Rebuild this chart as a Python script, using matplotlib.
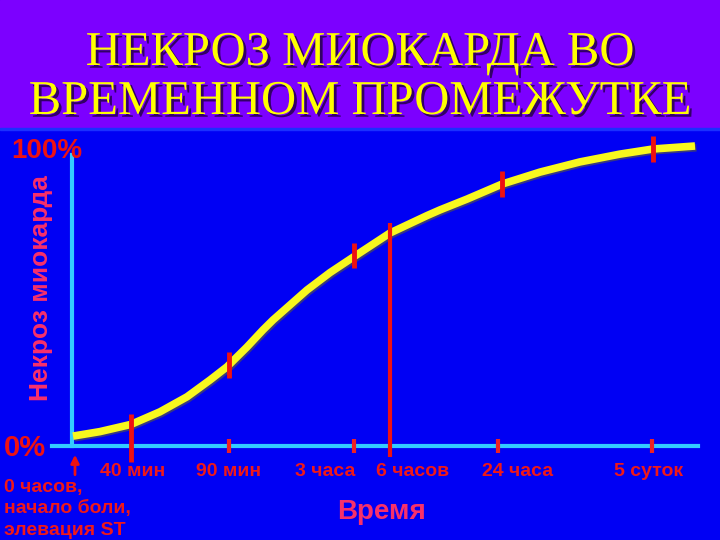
import matplotlib
matplotlib.use('Agg')
import matplotlib.pyplot as plt
import matplotlib.patheffects as pe
from matplotlib.patches import Rectangle

# ---------------- data ----------------
# time axis positions (arbitrary non-linear scale, 0 = onset of pain); y = % necrosis
curve_x = [1, 28, 59, 88, 115, 138, 155, 175, 191, 201, 235, 258, 281, 318,
           355, 368, 395, 430, 468, 508, 548, 581, 623]
curve_y = [3.3, 4.8, 7.2, 11.4, 16.4, 22.0, 26.4, 33.0, 38.7, 42.0, 52.0, 57.8, 62.9, 71.0,
           76.8, 78.7, 82.3, 87.3, 91.3, 94.7, 97.3, 99.0, 100.0]

marker_x = [157, 282, 430, 581]          # 90 min, 3 h, 24 h, 5 days (bars on curve)
marker_y = [27.0, 63.5, 87.3, 99.0]
m40_x, m40_y = 59, 7.2                    # 40 min bar
h6_x, h6_y = 318, 74.3                    # 6 h vertical line

axis_tick_x = [157, 282, 426, 580]

tick_labels = ['40 мин', '90 мин', '3 часа', '6 часов', '24 часа', '5 суток']
tick_label_px = [133, 229, 325, 413, 518, 649]

onset_lines = ['0 часов,', 'начало боли,', 'элевация ST']

title_lines = ['НЕКРОЗ МИОКАРДА ВО', 'ВРЕМЕННОМ ПРОМЕЖУТКЕ']

# ---------------- figure ----------------
W, H = 720, 540
fig = plt.figure(figsize=(7.2, 5.4), dpi=100)
fig.patch.set_facecolor('#0000f4')
fig.patches.append(Rectangle((0, 1 - 128 / H), 1, 128 / H, transform=fig.transFigure,
                             color='#7c00ff', zorder=0))
fig.patches.append(Rectangle((0, 1 - 130 / H), 1, 2 / H, transform=fig.transFigure,
                             color='#1a30ff', zorder=0))

def fx(px):
    return px / W

def fy(py):
    return 1 - py / H

RED = '#f01818'
PINK = '#f8306a'
CYAN = '#33ccff'
SANS = 'Liberation Sans'

# title
for i, line in enumerate(title_lines):
    fig.text(0.5, fy(53 + i * 49), line, ha='center', va='center', fontsize=35,
             family='Liberation Serif', color='#ffff00',
             path_effects=[pe.withSimplePatchShadow(offset=(2, -2), shadow_rgbFace='#200040', alpha=0.8)])

ax = fig.add_axes([fx(72), fy(446), (697 - 72) / W, 300 / H])
ax.set_xlim(0, 625)
ax.set_ylim(0, 100)
ax.axis('off')

# axes lines
ax.plot([-20, 626], [0, 0], color=CYAN, lw=3, clip_on=False, zorder=2)
ax.plot([0, 0], [0, 97], color=CYAN, lw=3, clip_on=False, zorder=2)

# curve
ax.plot(curve_x, curve_y, color='#f8f81e', lw=5.5, solid_capstyle='butt', solid_joinstyle='round',
        clip_on=False, zorder=3,
        path_effects=[pe.SimpleLineShadow(offset=(1.0, -1.2), shadow_color='#505050', alpha=0.7), pe.Normal()])

# red bars on curve
ax.vlines(marker_x, [y - 4.3 for y in marker_y], [y + 4.3 for y in marker_y], color='#ee1111',
          lw=3.5, zorder=4, clip_on=False)
ax.vlines([m40_x], [-5.3], [m40_y + 3.6], color='#ee1111', lw=3.5, zorder=4, clip_on=False)
ax.vlines([h6_x], [-3.5], [h6_y], color='#ee1111', lw=3, zorder=4, clip_on=False)

# small ticks on x axis
ax.vlines(axis_tick_x, -2.2, 2.4, color='#ee2222', lw=3, zorder=4, clip_on=False)

# arrow at onset
ax.annotate('', xy=(3, -2.0), xytext=(3, -10.5),
            arrowprops=dict(arrowstyle='-|>', color='#ee1111', lw=2, mutation_scale=12),
            annotation_clip=False)

# tick labels
for lab, px in zip(tick_labels, tick_label_px):
    fig.text(fx(px), fy(476), lab, ha='center', va='baseline', fontsize=14, color=RED,
             family=SANS, fontweight='bold')

for i, line in enumerate(onset_lines):
    fig.text(fx(4), fy(492 + i * 21.5), line, ha='left', va='baseline',
             fontsize=14, color=RED, family=SANS, fontweight='bold')

fig.text(fx(382), fy(512), 'Время', ha='center', va='center', fontsize=20, color=PINK,
         fontweight='bold', family=SANS)

fig.text(fx(11), fy(151), '100%', ha='left', va='center', fontsize=20, color='#ee1111',
         fontweight='bold', family=SANS)
fig.text(fx(4), fy(448), '0%', ha='left', va='center', fontsize=21, color='#ee1111',
         fontweight='bold', family=SANS)

fig.text(fx(41), fy(288), 'Некроз миокарда', ha='center', va='center', rotation=90,
         fontsize=19, color=PINK, family=SANS, fontweight='bold')

fig.savefig('out.png', dpi=100, facecolor=fig.get_facecolor())
